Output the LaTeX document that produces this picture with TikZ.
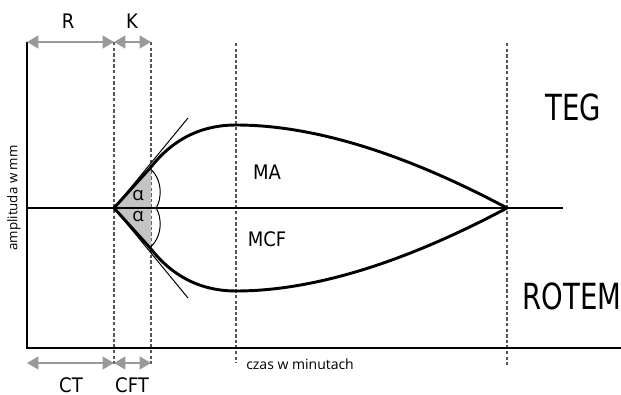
\documentclass[tikz,border=0pt]{standalone}
\usepackage{fontspec}
\setmainfont{Open Sans}
\newfontfamily\cond{DejaVu Sans Condensed}
\usetikzlibrary{arrows.meta}
\definecolor{dimgrey}{HTML}{999999}
\definecolor{dashgrey}{HTML}{555555}
\definecolor{fillgrey}{HTML}{C4C4C4}
\tikzset{
  axisline/.style={line width=1.5pt, black},
  midline/.style={line width=0.9pt, black},
  curveline/.style={line width=2.2pt, black, line join=round},
  thinline/.style={line width=0.75pt, black},
  guide/.style={line width=0.9pt, dashgrey, dash pattern=on 2.6pt off 1.6pt},
  dimarrow/.style={line width=1.5pt, dimgrey, {Triangle[length=8.5pt,width=9.5pt]}-{Triangle[length=8.5pt,width=9.5pt]}},
  biglabel/.style={font=\cond\fontsize{15}{15}\selectfont, inner sep=0pt, anchor=base},
  hugelabel/.style={font=\cond\fontsize{27}{27}\selectfont, inner sep=0pt, anchor=base},
  smalllabel/.style={font=\fontsize{10.5}{11}\selectfont, inner sep=0pt},
}
\begin{document}
\begin{tikzpicture}[x=0.75pt,y=-0.75pt]
\useasboundingbox (0,0) rectangle (621,395);
% coordinates
\coordinate (top) at (27,42);
\coordinate (orig) at (27,348);
\coordinate (xend) at (621,348);
\coordinate (ml) at (27,208);
\coordinate (mr) at (563,208);
\coordinate (v) at (114,208);
\coordinate (cu) at (151,167);
\coordinate (cl) at (151,249);
\coordinate (peak) at (236,125);
\coordinate (trough) at (236,291);
\coordinate (tip) at (507,208);
\coordinate (tu) at (188,118);
\coordinate (tl) at (188,298);
% guides
\coordinate (g1t) at (114,42); \coordinate (g1b) at (114,364);
\coordinate (g2t) at (151,42); \coordinate (g2b) at (151,364);
\coordinate (g3t) at (236,43); \coordinate (g3b) at (236,363);
\coordinate (g4t) at (507,43); \coordinate (g4b) at (507,365);
\draw[guide] (g1t) -- (g1b);
\draw[guide] (g2t) -- (g2b);
\draw[guide] (g3t) -- (g3b);
\draw[guide] (g4t) -- (g4b);
% grey angle area
\fill[fillgrey] (v) -- (cu) -- (cl) -- cycle;
% axes
\draw[axisline] (top) -- (orig) -- (xend);
\draw[midline] (ml) -- (mr);
% tangents
\draw[thinline] (v) -- (tu);
\draw[thinline] (v) -- (tl);
% brace arcs
\coordinate (bu) at (149,168);
\coordinate (bm) at (156,208);
\coordinate (bl) at (149,248);
\draw[thinline] (bu) .. controls (163,178) and (162,200) .. (bm)
  .. controls (162,216) and (163,238) .. (bl);
% curves
\draw[curveline] (v) -- (cu) .. controls (166,148) and (192,125) .. (peak)
  .. controls (330,125) and (430,167) .. (tip);
\draw[curveline] (v) -- (cl) .. controls (166,268) and (192,291) .. (trough)
  .. controls (330,291) and (430,249) .. (tip);
% dimension arrows
\coordinate (ra) at (27,42); \coordinate (rb) at (114,42); \coordinate (kb) at (151,42);
\coordinate (ca) at (27,363); \coordinate (cb) at (114,363); \coordinate (fb) at (151,363);
\draw[dimarrow] (ra) -- (rb);
\draw[dimarrow] (rb) -- (kb);
\draw[dimarrow] (ca) -- (cb);
\draw[dimarrow] (cb) -- (fb);
% labels
\node[biglabel] (lR) at (68,29) {R};
\node[biglabel] (lK) at (132,29) {K};
\node[biglabel] (lCT) at (71,392) {CT};
\node[biglabel] (lCFT) at (132,392) {CFT};
\node[biglabel] (lMA) at (267,180) {MA};
\node[biglabel] (lMCF) at (267,247) {MCF};
\node[font=\fontsize{14}{14}\selectfont, inner sep=0pt] (a1) at (138,196) {α};
\node[font=\fontsize{14}{14}\selectfont, inner sep=0pt] (a2) at (138,217) {α};
\node[hugelabel] (lTEG) at (573,121) {\scalebox{0.85}[1]{TEG}};
\node[hugelabel] (lROT) at (572,310) {\scalebox{0.85}[1]{ROTEM}};
\node[smalllabel, anchor=west] (lx) at (246,364) {czas w minutach};
\node[smalllabel, rotate=90, font=\fontsize{10}{10}\selectfont] (ly) at (14,198) {amplituda w mm};
\end{tikzpicture}
\end{document}
